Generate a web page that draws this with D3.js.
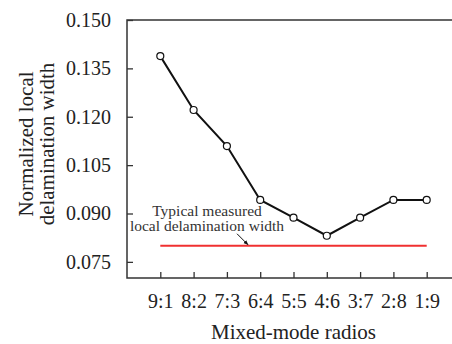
<!DOCTYPE html>
<html>
<head>
<meta charset="utf-8">
<script src="https://cdn.jsdelivr.net/npm/d3@7"></script>
</head>
<body style="margin:0; background:#fff">
<script>
var ratios = ["9:1", "8:2", "7:3", "6:4", "5:5", "4:6", "3:7", "2:8", "1:9"];
var widths = [0.1388, 0.1221, 0.1109, 0.0942, 0.0887, 0.0831, 0.0887, 0.0942, 0.0942];
var measured = 0.0800;
var yTicks = [0.075, 0.090, 0.105, 0.120, 0.135, 0.150];

var serif = "Liberation Serif";

var margin = {top: 20, right: -8, bottom: 66, left: 127}
, width = 452 - margin.left - margin.right
, height = 344 - margin.top - margin.bottom;

var svg = d3.select("body").append("svg")
    .attr("width", 452)
    .attr("height", 344)
    .append("g")
    .attr("transform", "translate(" + margin.left + "," + margin.top + ")");

var xScale = d3.scalePoint().domain(ratios).range([0, width]).padding(1);
var yScale = d3.scaleLinear().domain([0.070, 0.150]).range([height, 0]);

// frame: left, top, bottom
svg.append("path")
    .attr("d", "M" + width + ",0H0V" + height + "H" + width)
    .attr("fill", "none")
    .attr("stroke", "#333")
    .attr("stroke-width", 1.5);

var gy = svg.append("g")
    .call(d3.axisLeft(yScale).tickValues(yTicks).tickFormat(d3.format(".3f")).tickSizeInner(-6).tickSizeOuter(0).tickPadding(16));
gy.attr("font-family", serif).attr("font-size", 20);
gy.select(".domain").remove();
gy.selectAll("line").attr("stroke", "#333").attr("stroke-width", 1.3);
gy.selectAll("text").style("font-family", serif).style("font-size", "20px").attr("fill", "#222");

var gx = svg.append("g")
    .attr("transform", "translate(0," + height + ")")
    .call(d3.axisBottom(xScale).tickSizeInner(-6).tickSizeOuter(0).tickPadding(16));
gx.attr("font-family", serif).attr("font-size", 20);
gx.select(".domain").remove();
gx.selectAll("line").attr("stroke", "#333").attr("stroke-width", 1.3);
gx.selectAll("text").style("font-family", serif).style("font-size", "20px").attr("fill", "#222");

// measured reference line
svg.append("line")
    .attr("x1", xScale(ratios[0]))
    .attr("x2", xScale(ratios[ratios.length - 1]))
    .attr("y1", yScale(measured))
    .attr("y2", yScale(measured))
    .attr("stroke", "#f03030")
    .attr("stroke-width", 2);

var line = d3.line()
    .x((d, i) => xScale(ratios[i]))
    .y(d => yScale(d));

svg.append("path")
    .datum(widths)
    .attr("d", line)
    .attr("fill", "none")
    .attr("stroke", "#111")
    .attr("stroke-width", 2);

svg.selectAll(".dot")
    .data(widths)
    .enter().append("circle")
    .attr("class", "dot")
    .attr("cx", (d, i) => xScale(ratios[i]))
    .attr("cy", d => yScale(d))
    .attr("r", 3.5)
    .attr("fill", "#fff")
    .attr("stroke", "#111")
    .attr("stroke-width", 1.2);

// annotation, two lines
svg.append("text")
    .attr("x", 80).attr("y", yScale(measured) - 30)
    .attr("text-anchor", "middle")
    .style("font-family", serif)
    .style("font-size", "15.5px")
    .attr("fill", "#333")
    .text("Typical measured");
svg.append("text")
    .attr("x", 80).attr("y", yScale(measured) - 15)
    .attr("text-anchor", "middle")
    .style("font-family", serif)
    .style("font-size", "15.5px")
    .attr("fill", "#333")
    .text("local delamination width");

svg.append("defs").append("marker")
    .attr("id", "arr")
    .attr("viewBox", "0 0 10 10")
    .attr("refX", 9).attr("refY", 5)
    .attr("markerWidth", 5).attr("markerHeight", 5)
    .attr("orient", "auto")
    .append("path").attr("d", "M0,1L10,5L0,9Z").attr("fill", "#111");

svg.append("line")
    .attr("x1", 110).attr("y1", yScale(measured) - 12)
    .attr("x2", 121).attr("y2", yScale(measured) - 1)
    .attr("stroke", "#111")
    .attr("stroke-width", 1)
    .attr("marker-end", "url(#arr)");

// axis titles
svg.append("text")
    .attr("x", xScale("5:5"))
    .attr("y", height + 61)
    .attr("text-anchor", "middle")
    .style("font-family", serif)
    .style("font-size", "21px")
    .attr("fill", "#222")
    .text("Mixed-mode radios");

var yt = svg.append("text")
    .attr("transform", "translate(" + (-94) + "," + (height / 2 - 5) + ") rotate(-90)")
    .attr("text-anchor", "middle")
    .style("font-family", serif)
    .style("font-size", "21px")
    .attr("fill", "#222");
yt.append("tspan").attr("x", 0).attr("y", 0).text("Normalized local");
yt.append("tspan").attr("x", 0).attr("y", 21).text("delamination width");
</script>
</body>
</html>
